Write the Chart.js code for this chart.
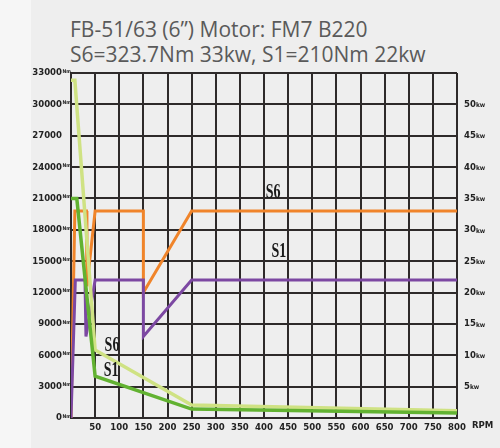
<!DOCTYPE html>
<html>
<head>
<meta charset="utf-8">
<script src="https://cdn.jsdelivr.net/npm/chart.js@4/dist/chart.umd.min.js"></script>
<style>
html,body{margin:0;padding:0;background:#f6f6f6;}
#wrap{position:relative;width:500px;height:448px;overflow:hidden;}
#panel{position:absolute;left:31px;top:0;width:469px;height:448px;background:#eeeeee;}
#title{position:absolute;left:70px;top:17px;font:21px/25px "Open Sans",sans-serif;color:#5a5a5a;white-space:nowrap;}
canvas{position:absolute;left:0;top:0;}
</style>
</head>
<body>
<div id="wrap">
  <div id="panel"></div>
  <div id="title">FB-51/63 (6”) Motor: FM7 B220<br>S6=323.7Nm 33kw, S1=210Nm 22kw</div>
  <canvas id="c" width="500" height="448"></canvas>
</div>
<script>
// torque curves (left axis, Nm)
const s6TorqueRpm = [0, 8, 50, 250, 800];
const s6TorqueNm  = [32300, 32300, 6500, 1250, 700];
const s1TorqueRpm = [0, 12, 50, 250, 800];
const s1TorqueNm  = [21000, 21000, 4000, 850, 480];

// power curves (right axis, kw)
const s6PowerRpm = [0, 8, 32, 33, 50, 150, 150, 250, 800];
const s6PowerKw  = [0, 33, 33, 21, 33, 33, 20, 33, 33];
const s1PowerRpm = [0, 9, 29, 31, 50, 150, 150, 250, 800];
const s1PowerKw  = [0, 22, 22, 13, 22, 22, 13, 22, 22];

// axis ticks
const rpmMax = 800, rpmStep = 50;
const nmMax = 33000, nmStep = 3000;
const kwMax = 55, kwStep = 5;
const noUnitNm = [27000];

// curve labels: [text, rpm, value, axis]
const curveLabels = [
  ['S6', 419, 35.9, 'y2'],
  ['S1', 431, 26.5, 'y2'],
  ['S6', 85, 6950, 'y'],
  ['S1', 83, 4500, 'y']
];

const pts = (xs, ys) => xs.map((x, i) => ({x: x, y: ys[i]}));
const gridCol = '#2e2a2a';
const fam = '"Liberation Sans Narrow","DejaVu Sans Condensed",sans-serif';
const tickFont = {family: fam, size: 9.5, weight: 'bold'};

const extras = {
  id: 'extras',
  afterDraw(chart) {
    const ctx = chart.ctx, xs = chart.scales.x, ys = chart.scales.y, y2 = chart.scales.y2;
    ctx.save();
    ctx.fillStyle = '#222';
    // tiny Nm after left ticks
    ctx.font = 'bold 5px ' + fam;
    ctx.textAlign = 'left';
    ctx.textBaseline = 'middle';
    ys.ticks.forEach(t => {
      if (noUnitNm.includes(t.value)) return;
      ctx.fillText('Nm', ys.right - 8.5, ys.getPixelForValue(t.value) - 1.5);
    });
    // kw after right ticks
    y2.ticks.forEach(t => {
      if (t.value === 0 || t.value === kwMax) return;
      ctx.font = 'bold 9.5px ' + fam;
      const w = ctx.measureText(String(t.value)).width;
      ctx.font = 'bold 6.5px ' + fam;
      ctx.fillText('kw', y2.left + 7 + w, y2.getPixelForValue(t.value) + 1);
    });
    // RPM
    ctx.font = 'bold 9.5px ' + fam;
    ctx.fillText('RPM', xs.right + 15, xs.top + 8);
    // curve labels
    ctx.font = 'bold 20px "Liberation Serif",serif';
    ctx.fillStyle = '#1a1a1a';
    ctx.textAlign = 'center';
    curveLabels.forEach(([txt, rpm, v, ax]) => {
      const px = xs.getPixelForValue(rpm), py = chart.scales[ax].getPixelForValue(v);
      ctx.save();
      ctx.translate(px, py);
      ctx.scale(0.7, 1);
      ctx.fillText(txt, 0, 0);
      ctx.restore();
    });
    ctx.restore();
  }
};

new Chart(document.getElementById('c'), {
  type: 'line',
  data: {
    datasets: [
      {label: 'S1 torque', data: pts(s1TorqueRpm, s1TorqueNm), yAxisID: 'y', borderColor: '#62b231', borderWidth: 3.5, order: 1},
      {label: 'S6 torque', data: pts(s6TorqueRpm, s6TorqueNm), yAxisID: 'y', borderColor: '#cfe283', borderWidth: 3.5, order: 2},
      {label: 'S1 power', data: pts(s1PowerRpm, s1PowerKw), yAxisID: 'y2', borderColor: '#7c48a2', borderWidth: 3, order: 3},
      {label: 'S6 power', data: pts(s6PowerRpm, s6PowerKw), yAxisID: 'y2', borderColor: '#f0842a', borderWidth: 3, order: 4}
    ]
  },
  options: {
    responsive: false,
    animation: false,
    devicePixelRatio: 1,
    layout: {padding: {top: 73, left: 0, right: 0, bottom: 0}},
    elements: {point: {radius: 0}, line: {tension: 0, borderJoinStyle: 'miter'}},
    plugins: {legend: {display: false}, tooltip: {enabled: false}, title: {display: false}},
    scales: {
      x: {
        type: 'linear', min: 0, max: rpmMax,
        afterFit: s => { s.height = 30; },
        grid: {color: gridCol, lineWidth: 2, drawTicks: false},
        border: {color: gridCol, width: 2},
        ticks: {stepSize: rpmStep, padding: 4, color: '#222', font: tickFont, maxRotation: 0,
                callback: v => v === 0 ? '' : String(v)}
      },
      y: {
        position: 'left', min: 0, max: nmMax,
        afterFit: s => { s.width = 71; },
        grid: {color: gridCol, lineWidth: 2, drawTicks: false},
        border: {color: gridCol, width: 2},
        ticks: {stepSize: nmStep, padding: 9, color: '#222', font: tickFont,
                callback: v => String(v)}
      },
      y2: {
        position: 'right', min: 0, max: kwMax,
        afterFit: s => { s.width = 43; },
        grid: {display: false, drawTicks: false},
        border: {display: false},
        ticks: {stepSize: kwStep, padding: 7, color: '#222', font: tickFont,
                callback: v => (v === 0 || v === kwMax) ? '' : String(v)}
      }
    }
  },
  plugins: [extras]
});
</script>
</body>
</html>
